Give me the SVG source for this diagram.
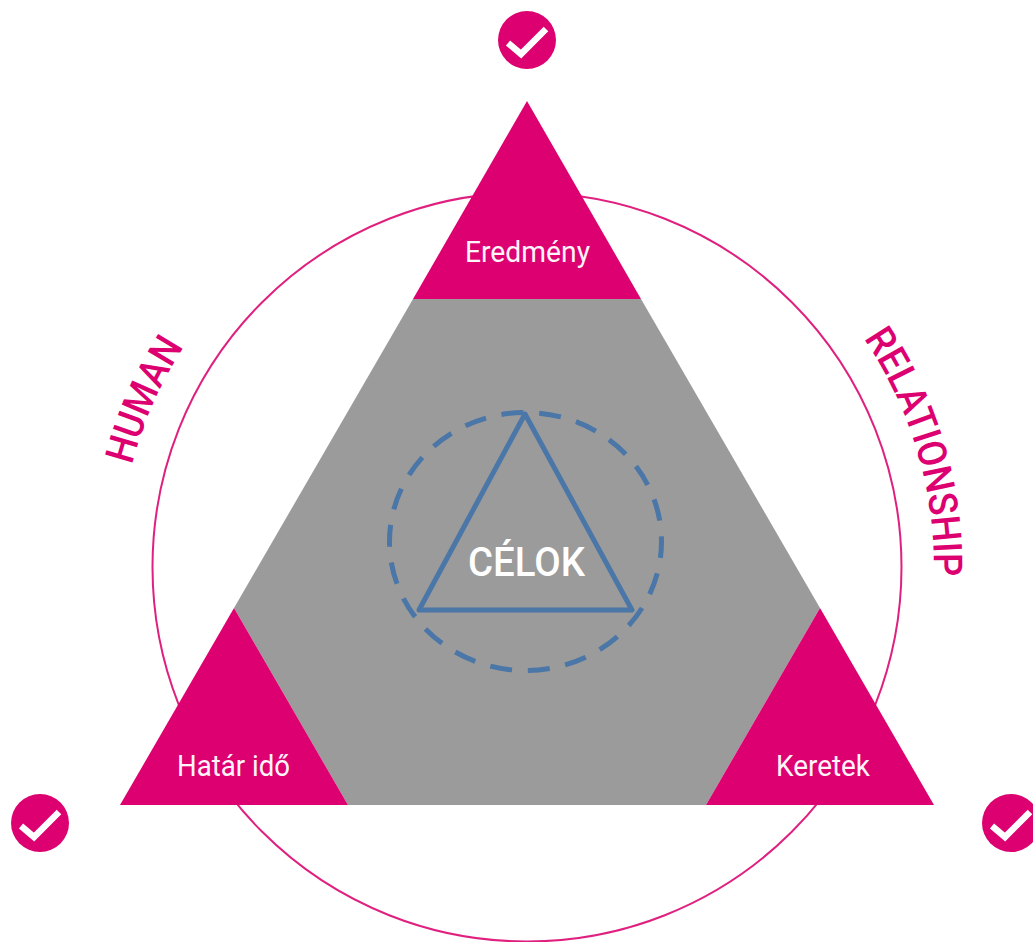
<svg xmlns="http://www.w3.org/2000/svg" width="1033" height="942" viewBox="0 0 1033 942">
<style>
.pink{fill:#dd0070}
.lbl{font-family:Roboto,"Liberation Sans",sans-serif;fill:#fff4fa;text-anchor:middle;font-size:30px}
.arc{font-family:Roboto,"Liberation Sans",sans-serif;fill:#dd0070;font-size:40px;font-weight:500}
.ring{fill:none;stroke:#e0207f;stroke-width:2}
.blue{fill:none;stroke:#4a76a8;stroke-width:5;stroke-linejoin:round}
.tick{fill:none;stroke:#fff;stroke-width:6.5}
</style>
<defs>
<path id="arcH" d="M132,465 A408,408 0 0 1 265,254.5"/>
<path id="arcR" d="M863.6,338.5 A407,407 0 0 1 927.8,637.7"/>
<g id="check"><circle r="29" class="pink"/><path class="tick" d="M-19,3 L-6,14 L19,-11"/></g>
</defs>
<g id="connectors">
<circle class="ring" cx="527" cy="567" r="374.5"/>
</g>
<g id="hexagon"><polygon fill="#9b9b9b" points="413,299 641,299 820,608 706,805 348,805 234,608"/></g>
<g id="node-eredmeny"><polygon class="pink" points="527,101 641,299 413,299"/><text class="lbl" x="527.5" y="262" textLength="125" lengthAdjust="spacingAndGlyphs">Eredmény</text></g>
<g id="node-hatar"><polygon class="pink" points="234,608 348,805 120,805"/><text class="lbl" x="233.5" y="776" textLength="113" lengthAdjust="spacingAndGlyphs">Határ idő</text></g>
<g id="node-keretek"><polygon class="pink" points="820,608 934,805 706,805"/><text class="lbl" x="823" y="776" textLength="94" lengthAdjust="spacingAndGlyphs">Keretek</text></g>
<g id="node-celok">
<ellipse class="blue" cx="525.5" cy="541.5" rx="136" ry="129" stroke-dasharray="22 15.85" stroke-dashoffset="5.5"/>
<polygon class="blue" points="525,414 632,610 419,610"/>
<text class="lbl" x="526.5" y="576" style="font-size:41px;fill:#fff;font-weight:500" textLength="117" lengthAdjust="spacingAndGlyphs">CÉLOK</text>
</g>
<g id="label-human"><text class="arc" textLength="130" lengthAdjust="spacingAndGlyphs"><textPath href="#arcH">HUMAN</textPath></text></g>
<g id="label-relationship"><text class="arc" textLength="252" lengthAdjust="spacingAndGlyphs"><textPath href="#arcR">RELATIONSHIP</textPath></text></g>
<g id="check-top"><use href="#check" x="527" y="40"/></g>
<g id="check-left"><use href="#check" x="40" y="823"/></g>
<g id="check-right"><use href="#check" x="1011" y="823"/></g>
</svg>
